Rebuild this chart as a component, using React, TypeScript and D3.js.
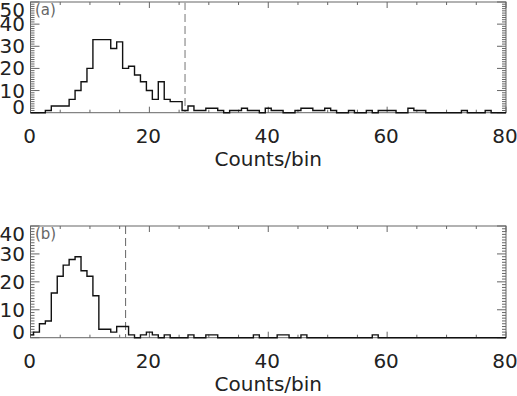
import React from 'react';
import * as d3 from 'd3';

// Histogram bins (counts per bin), 0..80
const bins: number[] = d3.range(0, 81);

const countsA: number[] = [
  0, 0, 0, 1, 3, 3, 3, 6, 10, 14,
  20, 33, 33, 33, 29, 32, 20, 21, 17, 14,
  10, 6, 14, 6, 5, 5, 1, 3, 1, 1,
  2, 2, 1, 0, 1, 1, 2, 1, 1, 0,
  2, 1, 1, 0, 0, 1, 2, 2, 1, 1,
  2, 1, 0, 0, 1, 0, 0, 1, 0, 1,
  1, 1, 0, 0, 2, 1, 1, 0, 0, 0,
  0, 0, 0, 1, 0, 0, 0, 1, 0, 0,
  0,
];

const countsB: number[] = [
  1, 2, 5, 6, 16, 22, 26, 28, 29, 24,
  22, 15, 3, 3, 2, 4, 4, 1, 0, 1,
  2, 1, 0, 1, 0, 0, 0, 1, 0, 0,
  1, 1, 0, 0, 0, 0, 0, 0, 1, 0,
  0, 0, 1, 1, 0, 0, 1, 0, 0, 0,
  0, 0, 0, 0, 0, 0, 0, 0, 1, 0,
  0, 0, 0, 0, 0, 0, 0, 0, 0, 0,
  0, 0, 0, 0, 0, 0, 0, 0, 0, 0,
  0,
];

const xTicks: number[] = [0, 20, 40, 60, 80];
const yTicksA: number[] = [0, 10, 20, 30, 40, 50];
const yTicksB: number[] = [0, 10, 20, 30, 40];
const thresholdA = 26;
const thresholdB = 16;
const xLabel = 'Counts/bin';

const FONT = '"DejaVu Sans ExtraLight", "DejaVu Sans", sans-serif';

type PanelProps = {
  counts: number[];
  yMax: number;
  yTicks: number[];
  top: number;
  bottom: number;
  threshold: number;
  label: string;
  dashColor: string;
  dashWidth: number;
};

function Panel({ counts, yMax, yTicks, top, bottom, threshold, label, dashColor, dashWidth }: PanelProps) {
  const x = d3.scaleLinear().domain([0, 80]).range([30.5, 506]);
  const y = d3.scaleLinear().domain([0, yMax]).range([bottom, top]);
  const line = d3
    .line<number>()
    .x((_, i) => x(bins[i]))
    .y((d) => y(d))
    .curve(d3.curveStep);

  const [x0, x1] = x.range();
  const axisColor = '#666';
  const xMinor = d3.range(0, 81, 5).filter((v) => v % 20 !== 0);
  const yMinor = d3.range(0, yMax + 1, 1).filter((v) => v % 10 !== 0);

  return (
    <g>
      {/* frame */}
      <rect x={x0} y={top} width={x1 - x0} height={bottom - top} fill="none" stroke={axisColor} strokeWidth={1} />
      {/* x ticks */}
      {xTicks.map((t) => (
        <g key={'xt' + t}>
          <line x1={x(t)} x2={x(t)} y1={bottom} y2={bottom - 6} stroke={axisColor} />
          <line x1={x(t)} x2={x(t)} y1={top} y2={top + 6} stroke={axisColor} />
        </g>
      ))}
      {xMinor.map((t) => (
        <g key={'xm' + t}>
          <line x1={x(t)} x2={x(t)} y1={bottom} y2={bottom - 3} stroke={axisColor} />
          <line x1={x(t)} x2={x(t)} y1={top} y2={top + 3} stroke={axisColor} />
        </g>
      ))}
      {/* y ticks */}
      {yTicks.map((t) => (
        <g key={'yt' + t}>
          <line x1={x0} x2={x0 + 9} y1={y(t)} y2={y(t)} stroke={axisColor} />
          <line x1={x1} x2={x1 - 9} y1={y(t)} y2={y(t)} stroke={axisColor} />
        </g>
      ))}
      {yMinor.map((t) => (
        <g key={'ym' + t}>
          <line x1={x0} x2={x0 + 4} y1={y(t)} y2={y(t)} stroke={axisColor} />
          <line x1={x1} x2={x1 - 4} y1={y(t)} y2={y(t)} stroke={axisColor} />
        </g>
      ))}
      {/* threshold */}
      <line
        x1={x(threshold)}
        x2={x(threshold)}
        y1={top}
        y2={bottom}
        stroke={dashColor}
        strokeWidth={dashWidth}
        strokeDasharray="8 4"
      />
      {/* histogram */}
      <path d={line(counts) || ''} fill="none" stroke="#111" strokeWidth={1.4} />
      {/* tick labels */}
      {xTicks.map((t) => (
        <text key={'xl' + t} x={x(t) - 1} y={bottom + 30} textAnchor="middle" fontFamily={FONT} fontSize={20} fill="#222">
          {t}
        </text>
      ))}
      {yTicks.map((t) => {
        const cy = Math.min(Math.max(y(t), top + 7.5), bottom - 6);
        return (
          <text key={'yl' + t} x={25} y={cy + 7} textAnchor="end" fontFamily={FONT} fontSize={20} fill="#222">
            {t}
          </text>
        );
      })}
      <text x={(x0 + x1) / 2} y={bottom + 53} textAnchor="middle" fontFamily={FONT} fontSize={20} fill="#222">
        {xLabel}
      </text>
      <text x={35} y={top + 13} fontFamily={FONT} fontSize={15} fill="#666">
        {label}
      </text>
    </g>
  );
}

export default function App() {
  return (
    <svg
      width={517}
      height={396}
      style={{ position: 'absolute', left: 0, top: 0, background: '#fff' }}
    >
      <rect width={517} height={396} fill="#fff" />
      <Panel
        counts={countsA}
        yMax={50}
        yTicks={yTicksA}
        top={2}
        bottom={112.7}
        threshold={thresholdA}
        label="(a)"
        dashColor="#aaa"
        dashWidth={1.6}
      />
      <Panel
        counts={countsB}
        yMax={40}
        yTicks={yTicksB}
        top={226}
        bottom={337.7}
        threshold={thresholdB}
        label="(b)"
        dashColor="#666"
        dashWidth={1}
      />
    </svg>
  );
}
